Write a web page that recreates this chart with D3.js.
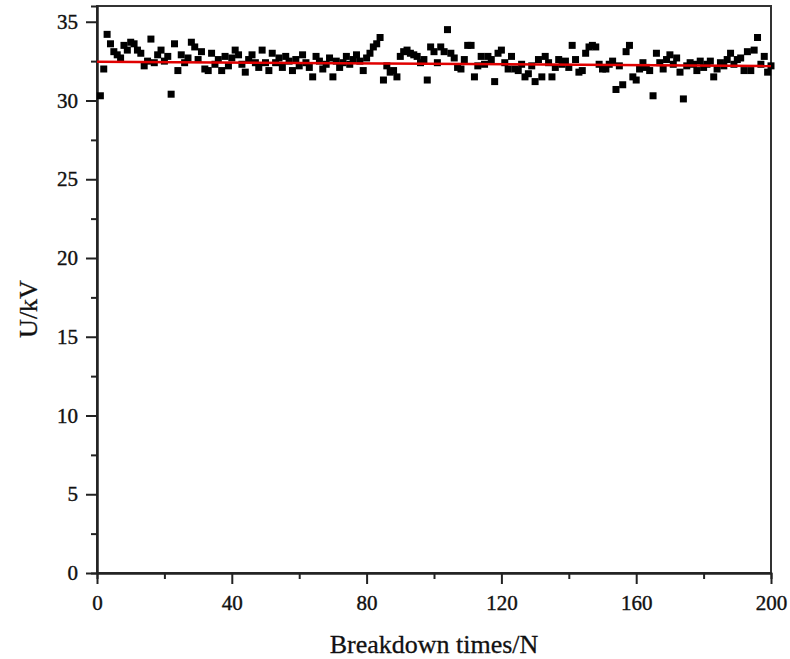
<!DOCTYPE html>
<html>
<head>
<meta charset="utf-8">
<script src="https://cdn.jsdelivr.net/npm/d3@7"></script>
<style>
    body { margin: 0; background: #fff; }
    .axis path, .axis line { stroke: #222; stroke-width: 2; }
    .axis text { font-family: "Liberation Serif", "Times New Roman", serif; font-size: 21px; fill: #111; stroke: #111; stroke-width: 0.4px; }
    .label { font-family: "Liberation Serif", "Times New Roman", serif; fill: #111; stroke: #111; stroke-width: 0.3px; }
</style>
</head>
<body>
<div id="chart-container"></div>
<script>
const svgWidth = 790,
    svgHeight = 659,
    margin = { top: 6, right: 19, bottom: 86, left: 97 },
    width = svgWidth - margin.left - margin.right,
    height = svgHeight - margin.top - margin.bottom;

// breakdown voltage (kV) for breakdown number N = 1..200
const voltages = [
    30.3, 32.0, 34.2, 33.6, 33.1, 32.9, 32.7, 33.5, 33.2, 33.7,
    33.6, 33.2, 33.0, 32.2, 32.5, 33.9, 32.4, 32.9, 33.2, 32.5,
    32.8, 30.4, 33.6, 31.9, 32.9, 32.4, 32.7, 33.7, 33.4, 32.6,
    33.1, 32.0, 31.9, 33.0, 32.3, 32.6, 31.9, 32.8, 32.2, 32.7,
    33.2, 32.9, 32.3, 31.8, 32.6, 32.9, 32.4, 32.1, 33.2, 32.4,
    31.9, 33.0, 32.4, 32.7, 32.1, 32.8, 32.5, 31.9, 32.6, 32.2,
    32.9, 32.4, 32.1, 31.5, 32.8, 32.5, 32.0, 32.3, 32.7, 31.5,
    32.5, 32.1, 32.4, 32.8, 32.3, 32.6, 32.9, 32.5, 31.9, 32.7,
    33.0, 33.4, 33.6, 34.0, 31.3, 32.2, 31.8, 31.9, 31.5, 32.8,
    33.1, 33.2, 33.0, 32.9, 32.8, 32.4, 32.6, 31.3, 33.4, 33.1,
    32.4, 33.4, 33.1, 34.5, 33.0, 32.7, 32.1, 32.0, 32.6, 33.5,
    33.5, 31.5, 32.2, 32.8, 32.3, 32.8, 32.6, 31.2, 33.0, 33.2,
    32.4, 32.0, 32.8, 32.0, 31.9, 32.3, 31.5, 31.7, 32.2, 31.2,
    32.6, 31.5, 32.8, 32.4, 31.5, 32.1, 32.6, 32.3, 32.5, 32.1,
    33.5, 32.6, 31.8, 31.9, 33.0, 33.4, 33.5, 33.4, 32.3, 32.0,
    32.0, 32.3, 32.5, 30.7, 32.2, 31.0, 33.1, 33.5, 31.5, 31.3,
    32.0, 32.4, 32.1, 31.9, 30.3, 33.0, 32.4, 32.0, 32.6, 32.9,
    32.3, 32.7, 31.8, 30.1, 32.2, 32.4, 32.3, 31.9, 32.5, 32.1,
    32.3, 32.5, 31.5, 32.0, 32.4, 32.2, 32.6, 33.0, 32.3, 32.6,
    32.7, 31.9, 33.1, 31.9, 33.2, 34.0, 32.3, 32.8, 31.8, 32.2
];
const breakdowns = voltages.map((v, i) => ({ n: i + 1, u: v }));

// linear fit, end points at N = 0 and N = 200
const fitLine = [{ n: 0, u: 32.46 }, { n: 200, u: 32.19 }];

const xMajorTicks = [0, 40, 80, 120, 160, 200],
    xMinorTicks = [20, 60, 100, 140, 180],
    yMajorTicks = [0, 5, 10, 15, 20, 25, 30, 35],
    yMinorTicks = [2.5, 7.5, 12.5, 17.5, 22.5, 27.5, 32.5];

let svg = d3.select("#chart-container").append("svg")
    .attr("width", svgWidth)
    .attr("height", svgHeight)
    .append("g")
    .attr("transform", `translate(${margin.left},${margin.top})`);

let xScale = d3.scaleLinear().domain([0, 200]).range([0, width]),
    yScale = d3.scaleLinear().domain([0, 36]).range([height, 0]);

// frame on top and right
svg.append("rect")
    .attr("width", width)
    .attr("height", height)
    .attr("fill", "none")
    .attr("stroke", "#333")
    .attr("stroke-width", 2);

// minor ticks first, no labels
svg.append("g")
    .attr("class", "axis")
    .attr("transform", `translate(0,${height})`)
    .call(d3.axisBottom(xScale).tickValues(xMinorTicks).tickSize(6).tickFormat(""));
svg.append("g")
    .attr("class", "axis")
    .call(d3.axisLeft(yScale).tickValues(yMinorTicks).tickSize(6).tickFormat(""));

// major ticks
svg.append("g")
    .attr("class", "axis")
    .attr("transform", `translate(0,${height})`)
    .call(d3.axisBottom(xScale).tickValues(xMajorTicks).tickSize(11).tickSizeOuter(0).tickPadding(11));
svg.append("g")
    .attr("class", "axis")
    .call(d3.axisLeft(yScale).tickValues(yMajorTicks).tickSize(11).tickSizeOuter(0).tickPadding(8));

// axis titles
svg.append("text")
    .attr("class", "label")
    .attr("x", width / 2)
    .attr("y", 653 - margin.top)
    .attr("text-anchor", "middle")
    .style("font-size", "26px")
    .text("Breakdown times/N");
svg.append("text")
    .attr("class", "label")
    .attr("transform", `translate(${37 - margin.left},${309 - margin.top}) rotate(-90)`)
    .attr("text-anchor", "middle")
    .style("font-size", "26px")
    .text("U/kV");

// points
const sq = 7;
svg.append("g").selectAll("rect")
    .data(breakdowns)
    .join("rect")
    .attr("x", (d) => xScale(d.n) - sq / 2)
    .attr("y", (d) => yScale(d.u) - sq / 2)
    .attr("width", sq)
    .attr("height", sq)
    .attr("fill", "#000");

// fit line
svg.append("path")
    .datum(fitLine)
    .attr("fill", "none")
    .attr("stroke", "#e00000")
    .attr("stroke-width", 2.5)
    .attr("d", d3.line().x((d) => xScale(d.n)).y((d) => yScale(d.u)));
</script>
</body>
</html>
